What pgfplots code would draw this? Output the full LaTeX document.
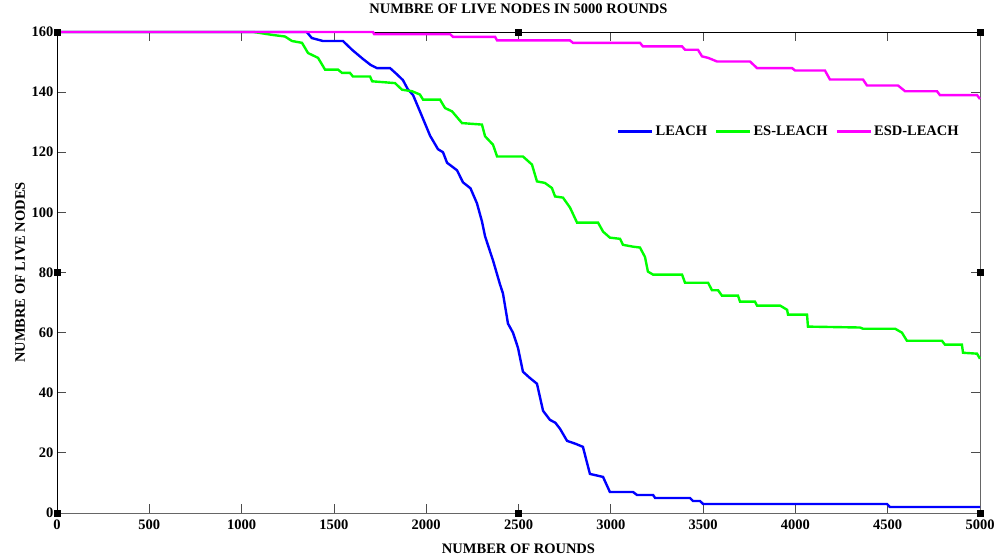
\documentclass[border=0pt]{standalone}
\usepackage{fontspec}
\setmainfont{Liberation Serif}
\usepackage{pgfplots}
\pgfplotsset{compat=1.18}
\newcommand\ff{\fontsize{14.5pt}{17pt}\selectfont\bfseries}
\definecolor{cB}{RGB}{0,0,255}
\definecolor{cG}{RGB}{0,255,0}
\definecolor{cM}{RGB}{255,0,255}
\begin{document}
\begin{tikzpicture}
\begin{axis}[
  name=ax,
  scale only axis, width=923pt, height=481pt,
  xmin=0, xmax=5000, ymin=0, ymax=160,
  xtick={0,500,...,5000}, ytick={0,20,...,160},
  /pgf/number format/assume math mode=true,
  /pgf/number format/set thousands separator={},
  tick label style={font=\ff},
  xticklabel style={yshift=-3pt},
  tick align=inside, major tick length=9pt,
  tick style={black!70, line width=0.8pt},
  axis line style={black!60, line width=0.9pt},
  clip=false,
  title={NUMBRE OF LIVE NODES IN 5000 ROUNDS},
  title style={font=\ff, at={(axis description cs:0.5,1.025)}, anchor=base},
  xlabel={NUMBER OF ROUNDS},
  xlabel style={font=\ff, at={(axis description cs:0.5,-0.0832)}, anchor=base},
  ylabel={NUMBRE OF LIVE NODES},
  ylabel style={font=\ff, at={(axis description cs:-0.0347,0.5)}, anchor=base, rotate=0},
  legend columns=3,
  legend image code/.code={\draw[#1,line width=2.4pt] (0pt,0pt) -- (34pt,0pt);},
  legend style={draw=none, fill=none, font=\ff, at={(axis description cs:0.6067,0.793)}, anchor=west, inner sep=0pt,
    /tikz/every even column/.append style={column sep=6pt}},
]
\draw[black, line width=0.9pt] (rel axis cs:0,0) -- (rel axis cs:0,1) -- (rel axis cs:1,1);
\addplot[cB, line width=2.4pt] coordinates {
(0,160)(1353,160)(1380,158)(1441,157)(1549,157)(1600,154)(1658,151)(1700,149)(1733,148)(1804,148)(1840,146)(1874,144)(1900,141)(1929,139)(1977,132)(2021,125.5)(2064,121)(2091,120)(2113,116.5)(2167,114)(2199,110)(2240,108)(2275,103)(2302,97)(2319,92)(2362,84)(2400,76)(2416,73)(2443,63)(2470,60)(2497,55)(2524,47)(2560,45)(2600,43)(2633,34)(2670,31)(2700,30)(2725,28)(2763,24)(2810,23)(2849,22)(2870,17)(2887,13)(2958,12)(2995,7)(3120,7)(3142,6)(3229,6)(3240,5)(3429,5)(3445,4)(3483,4)(3500,3)(4496,3)(4512,2)(5000,2)
};
\addlegendentry{LEACH}
\addplot[cG, line width=2.4pt] coordinates {
(0,160)(1065,160)(1170,159)(1235,158.5)(1273,157)(1327,156.4)(1360,153)(1414,151.4)(1452,147.5)(1522,147.5)(1544,146.4)(1587,146.4)(1603,145.2)(1696,145.2)(1707,143.6)(1831,143)(1869,140.8)(1923,140.3)(1966,139.2)(1983,137.5)(2075,137.5)(2102,134.7)(2140,133.6)(2194,129.7)(2302,129.2)(2319,125.3)(2362,122.5)(2384,118.6)(2524,118.6)(2573,115.9)(2600,110.3)(2643,109.8)(2681,108.1)(2698,105.3)(2741,104.9)(2779,101.6)(2817,96.6)(2931,96.6)(2958,93.6)(2995,91.6)(3050,91.2)(3066,89.2)(3120,88.6)(3158,88.3)(3185,85.2)(3201,80.3)(3229,79.3)(3386,79.3)(3402,76.6)(3527,76.6)(3548,74.1)(3581,74.1)(3602,72.3)(3689,72.3)(3700,70.3)(3781,70.3)(3792,69)(3917,69)(3955,67.6)(3960,66)(4063,66)(4068,62)(4350,61.7)(4366,61.3)(4540,61.3)(4577,60)(4604,57.3)(4794,57.3)(4810,56)(4902,56)(4908,53.3)(4984,53)(5000,51.3)
};
\addlegendentry{ES-LEACH}
\addplot[cM, line width=2.4pt] coordinates {
(0,160)(1712,160)(1718,159.3)(2129,159.3)(2145,158.4)(2373,158.4)(2384,157.2)(2779,157.2)(2795,156.4)(3158,156.4)(3174,155.2)(3386,155.2)(3402,154.1)(3472,154.1)(3494,151.9)(3527,151.4)(3575,150.2)(3754,150.2)(3792,148)(3982,148)(3998,147.2)(4160,147.2)(4187,144.2)(4366,144.2)(4388,142.2)(4556,142.2)(4594,140.3)(4767,140.3)(4783,139)(4984,139)(5000,137.7)
};
\addlegendentry{ESD-LEACH}
\addplot[only marks, mark=square*, mark size=3pt, black, forget plot] coordinates {
(0,0)(2500,0)(5000,0)(0,80)(5000,80)(0,160)(2500,160)(5000,160)
};
\end{axis}
\pgfresetboundingbox
\path[use as bounding box] ([xshift=-57pt,yshift=-44pt]ax.south west) rectangle ([xshift=24pt,yshift=32pt]ax.north east);
\end{tikzpicture}
\end{document}
